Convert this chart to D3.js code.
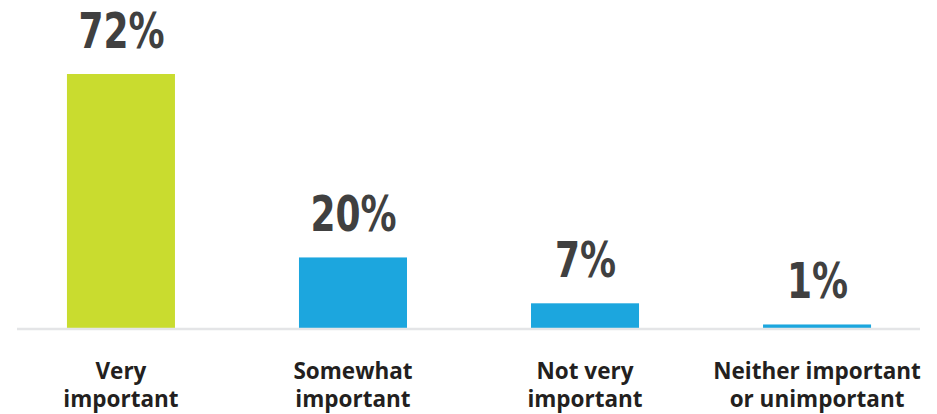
<!DOCTYPE html>
<html>
<head>
<meta charset="utf-8">
<script src="https://cdn.jsdelivr.net/npm/d3@7"></script>
<style>
  html, body { margin: 0; padding: 0; background: #ffffff; }
  svg { display: block; }
</style>
</head>
<body>
<svg id="chart" width="937" height="414"></svg>
<script>
// Survey responses: how important is it?
const categories = [
  ["Very", "important"],
  ["Somewhat", "important"],
  ["Not very", "important"],
  ["Neither important", "or unimportant"]
];
const values = [72, 20, 7, 1];
const valueLabels = ["72%", "20%", "7%", "1%"];
const barColors = ["#c9dc2f", "#1ca6de", "#1ca6de", "#1ca6de"];

const svg = d3.select("#chart");
const baseline = 328;

const keys = categories.map(c => c.join(" "));

const x = d3.scaleBand()
  .domain(keys)
  .range([5, 933])
  .paddingInner(0.5345)
  .paddingOuter(0.267);

const y = d3.scaleLinear()
  .domain([0, 72])
  .range([baseline, 74]);

// bars
svg.append("g")
  .selectAll("rect")
  .data(values)
  .join("rect")
  .attr("x", (d, i) => x(keys[i]))
  .attr("y", d => y(d))
  .attr("width", x.bandwidth())
  .attr("height", d => baseline - y(d))
  .attr("fill", (d, i) => barColors[i]);

// baseline rule
svg.append("line")
  .attr("x1", 17).attr("x2", 920)
  .attr("y1", baseline + 1).attr("y2", baseline + 1)
  .attr("stroke", "#e4e5e7")
  .attr("stroke-width", 2.5);

// value labels above bars, horizontally condensed
svg.append("g")
  .selectAll("text")
  .data(values)
  .join("text")
  .attr("transform", (d, i) =>
    `translate(${x(keys[i]) + x.bandwidth() / 2 + 0.5},${y(d) - 26}) scale(0.72,1)`)
  .attr("text-anchor", "middle")
  .attr("font-family", "'DejaVu Sans', sans-serif")
  .attr("font-weight", 700)
  .attr("font-size", 50)
  .attr("fill", "#404040")
  .text((d, i) => valueLabels[i]);

// category labels under the axis
const catG = svg.append("g")
  .selectAll("text")
  .data(categories)
  .join("text")
  .attr("x", (d, i) => x(keys[i]) + x.bandwidth() / 2)
  .attr("y", 379)
  .attr("text-anchor", "middle")
  .attr("font-family", "'Open Sans', 'Noto Sans', sans-serif")
  .attr("font-weight", 700)
  .attr("font-size", 22.5)
  .attr("fill", "#231f20");

catG.selectAll("tspan")
  .data(d => d)
  .join("tspan")
  .attr("x", function () { return d3.select(this.parentNode).attr("x"); })
  .attr("dy", (d, i) => i === 0 ? 0 : 28)
  .text(d => d);
</script>
</body>
</html>
